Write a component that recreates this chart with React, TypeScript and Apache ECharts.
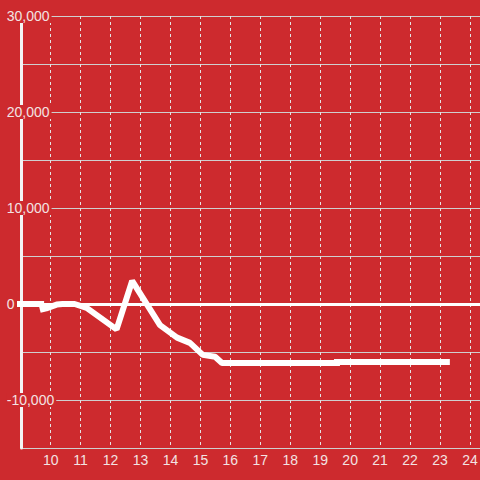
import React, { useEffect, useRef } from 'react';
import * as echarts from 'echarts';

// ---- data ----
const xMin = 9;
const xMax = 24.37;
const xStep = 1;
const yMin = -15000;
const yMax = 30000;
const yStep = 5000;
const yLabelStep = 10000;

const segmentA: [number, number][] = [
  [8.8, 0],
  [9.78, 0],
];

const segmentB: [number, number][] = [
  [9.64, -620],
  [9.85, -450],
  [10.2, -60],
  [10.4, 0],
  [10.8, 0],
  [11.2, -400],
  [12.2, -2650],
  [12.72, 2400],
  [13.65, -2200],
  [14.22, -3500],
  [14.65, -4050],
  [15.08, -5300],
  [15.49, -5500],
  [15.72, -6150],
  [19.66, -6150],
];

const segmentC: [number, number][] = [
  [19.46, -6050],
  [23.33, -6050],
];

const BG = '#cd2a2e';
const TEXT = '#f3e3e3';
const FONT = '"Liberation Sans", Arial, sans-serif';

export default function App() {
  const ref = useRef<HTMLDivElement>(null);

  useEffect(() => {
    if (!ref.current) return;
    const chart = echarts.init(ref.current, undefined, { renderer: 'svg' });

    const lineSeries = (data: [number, number][], extra: any = {}) => ({
      type: 'line',
      data,
      xAxisIndex: 0,
      yAxisIndex: 0,
      symbol: 'none',
      showSymbol: false,
      clip: false,
      z: 2,
      lineStyle: { color: '#ffffff', width: 6 },
      ...extra,
    });

    chart.setOption({
      animation: false,
      backgroundColor: BG,
      textStyle: { fontFamily: FONT },
      grid: {
        left: 20.75,
        right: -1,
        top: 16,
        bottom: 32,
        containLabel: false,
        outerBoundsMode: 'none',
      },
      xAxis: {
        type: 'value',
        min: xMin,
        max: xMax,
        interval: xStep,
        axisLine: { show: false },
        axisTick: { show: false },
        splitLine: {
          show: true,
          lineStyle: { color: '#e4e4e4', width: 1, type: [3, 3] },
        },
        axisLabel: {
          color: TEXT,
          fontSize: 14,
          fontFamily: FONT,
          margin: 5,
          formatter: (v: number) =>
            Number.isInteger(v) && v >= 10 ? String(v) : '',
        },
      },
      yAxis: [
        {
          type: 'value',
          min: yMin,
          max: yMax,
          interval: yStep,
          axisLine: { show: true, lineStyle: { color: '#f4f4f4', width: 3 } },
          axisTick: { show: false },
          axisLabel: { show: false },
          splitLine: { show: true, lineStyle: { color: '#cfcfcf', width: 1 } },
        },
        {
          type: 'value',
          min: yMin,
          max: yMax,
          interval: yStep,
          position: 'left',
          z: 5,
          axisLine: { show: false },
          axisTick: { show: false },
          splitLine: { show: false },
          axisLabel: {
            align: 'left',
            margin: 14,
            fontSize: 14,
            fontFamily: FONT,
            color: TEXT,
            backgroundColor: BG,
            padding: [0, 2, 0, 0],
            lineHeight: 14,
            formatter: (v: number) =>
              v % yLabelStep === 0 ? v.toLocaleString('en-US') : '',
          },
        },
      ],
      series: [
        lineSeries(segmentA),
        lineSeries(segmentB, {
          markLine: {
            silent: true,
            symbol: ['none', 'none'],
            label: { show: false },
            lineStyle: { color: '#ffffff', width: 3, type: 'solid' },
            data: [{ yAxis: 0 }],
          },
        }),
        lineSeries(segmentC),
      ],
    });

    return () => chart.dispose();
  }, []);

  return (
    <div
      ref={ref}
      style={{ position: 'absolute', left: 0, top: 0, width: 480, height: 480 }}
    />
  );
}
